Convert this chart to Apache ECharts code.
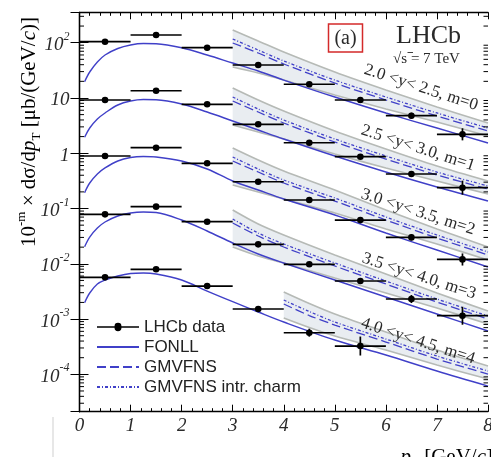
<!DOCTYPE html>
<html><head><meta charset="utf-8">
<script src="https://cdn.jsdelivr.net/npm/echarts@6/dist/echarts.min.js"></script>
<style>html,body{margin:0;padding:0;background:#fff}#c{width:491px;height:457px}</style>
</head><body><div id="c"></div>
<script>
// ---------- data ----------
const binCenters = [0.5, 1.5, 2.5, 3.5, 4.5, 5.5, 6.5, 7.5];
const binLow     = [0, 1, 2, 3, 4, 5, 6, 7];
const binHigh    = [1, 2, 3, 4, 5, 6, 7, 8];
const rapidityLabels = ['2.0 <y< 2.5, m=0', '2.5 <y< 3.0, m=1', '3.0 <y< 3.5, m=2', '3.5 <y< 4.0, m=3', '4.0 <y< 4.5, m=4'];
const xTicks = [0, 1, 2, 3, 4, 5, 6, 7, 8];

// LHCb data (value, lower, upper)
const data0   = [104.3, 137.8, 81.2, 39.5, 17.7, 9.19, 4.78, 2.20];
const data0Lo = [96, 127, 74.7, 36.3, 16.3, 8.45, 4.22, 1.71];
const data0Hi = [113, 150, 88.3, 42.9, 19.2, 9.99, 5.42, 2.83];
const data1   = [9.19, 13.5, 7.68, 3.34, 1.55, 0.866, 0.421, 0.238];
const data1Lo = [8.45, 12.4, 7.07, 3.07, 1.43, 0.797, 0.372, 0.178];
const data1Hi = [9.99, 14.7, 8.35, 3.63, 1.68, 0.941, 0.477, 0.319];
const data2   = [0.891, 1.26, 0.658, 0.305, 0.1426, 0.0617, 0.030, 0.012];
const data2Lo = [0.82, 1.16, 0.605, 0.281, 0.131, 0.0568, 0.0265, 0.0093];
const data2Hi = [0.969, 1.37, 0.715, 0.332, 0.155, 0.0671, 0.034, 0.0154];
const data3   = [0.0785, 0.108, 0.0577, 0.0225, 0.00979, 0.00488, 0.002305, 0.00115];
const data3Lo = [0.0722, 0.0994, 0.0531, 0.0207, 0.0089, 0.00431, 0.00195, 0.00079];
const data3Hi = [0.0853, 0.117, 0.0627, 0.0245, 0.0108, 0.00553, 0.00272, 0.00167];
const data4   = [0.00569, 0.00795, 0.00396, 0.00152, 0.000566, 0.000325];
const data4Lo = [0.00523, 0.00731, 0.00364, 0.00134, 0.00048, 0.000219];
const data4Hi = [0.00618, 0.00864, 0.0043, 0.00172, 0.00067, 0.000483];

// FONLL curves
const fonllX = [0.1, 0.2, 0.35, 0.5, 0.75, 1, 1.25, 1.5, 2, 2.5, 3, 3.5, 4, 5, 6, 7, 8];
const fonll0 = [19.7, 29.5, 44.8, 59.9, 78.6, 90.9, 96.7, 95.9, 81.2, 59.9, 42.9, 30.8, 21.1, 10.4, 5.35, 2.86, 1.53];
const fonll1 = [1.943, 2.86, 4.16, 5.35, 7.46, 8.81, 9.38, 9.30, 7.78, 5.57, 3.83, 2.63, 1.81, 0.891, 0.458, 0.245, 0.1367];
const fonll2 = [0.1932, 0.2894, 0.421, 0.5418, 0.7237, 0.8373, 0.873, 0.855, 0.7237, 0.5186, 0.3147, 0.2163, 0.1486, 0.0763, 0.0361, 0.01775, 0.00874];
const fonll3 = [0.02037, 0.0305, 0.0444, 0.0570, 0.0732, 0.0830, 0.0865, 0.0847, 0.0620, 0.0392, 0.02377, 0.01503, 0.01033, 0.005087, 0.002506, 0.001234, 0.000608];
const fonll4 = [0.001976, 0.00296, 0.004307, 0.005087, 0.006008, 0.00667, 0.006812, 0.006534, 0.005087, 0.003203, 0.00206, 0.001341, 0.000884, 0.000418, 0.0002236, 0.0001148, 0.0000614];

// GMVFNS bands / curves
const bandX  = [3, 3.5, 4, 5, 6, 7, 8];
const bandX4 = [4, 4.5, 5, 6, 7, 8];
const bandTop0 = [169.7, 107.4, 67.9, 29.5, 13.94, 6.865, 3.525];
const icharm0  = [116.7, 73.8, 46.7, 21.1, 10.41, 5.35, 2.86];
const gmv0     = [98.8, 65.1, 41.2, 18.66, 9.19, 4.72, 2.526];
const bandLow0 = [36.3, 28.3, 21.1, 11.32, 6.316, 3.675, 2.050];
const bandTop1 = [15.15, 9.19, 5.812, 2.526, 1.193, 0.5876, 0.3147];
const icharm1  = [10.41, 6.316, 3.995, 1.810, 0.8915, 0.4576, 0.2555];
const gmv1     = [8.81, 5.575, 3.525, 1.597, 0.7866, 0.4041, 0.2254];
const bandLow1 = [3.244, 2.423, 1.810, 0.9688, 0.5407, 0.3147, 0.1830];
const bandTop2 = [1.244, 0.7546, 0.4772, 0.2163, 0.09397, 0.04259, 0.02012];
const icharm2  = [0.855, 0.5187, 0.328, 0.155, 0.07022, 0.03317, 0.01633];
const gmv2     = [0.7237, 0.4576, 0.2894, 0.1367, 0.0620, 0.02927, 0.01442];
const bandLow2 = [0.2662, 0.1989, 0.1486, 0.0830, 0.04259, 0.02280, 0.01171];
const bandTop3 = [0.09397, 0.05245, 0.03317, 0.01442, 0.006534, 0.00296, 0.001398];
const icharm3  = [0.06459, 0.03605, 0.02280, 0.01033, 0.004882, 0.002305, 0.001136];
const gmv3     = [0.05467, 0.03181, 0.02012, 0.009118, 0.004307, 0.002034, 0.001002];
const bandLow3 = [0.02012, 0.01383, 0.01033, 0.005529, 0.00296, 0.001585, 0.000813];
const bandTop4 = [0.003086, 0.001911, 0.001234, 0.000583, 0.0002754, 0.0001414];
const icharm4  = [0.002211, 0.001370, 0.000884, 0.0004355, 0.0002146, 0.0001148];
const gmv4     = [0.001873, 0.001159, 0.00078, 0.0003844, 0.0001893, 0.0001013];
const bandLow4 = [0.001045, 0.000703, 0.000493, 0.0002754, 0.0001474, 0.0000823];

// ---------- styling ----------
const BLUE = '#4040c8', GREYL = '#b6bab6', FILL = '#e9edf1';
const SERIF = '"Liberation Serif","DejaVu Serif",serif';
const SANS = '"Liberation Sans",Arial,sans-serif';
const yMin = 2.109e-5, yMax = 354.8;

const bins = [
  {d: data0, lo: data0Lo, hi: data0Hi, f: fonll0, bx: bandX, top: bandTop0, ic: icharm0, g: gmv0, low: bandLow0},
  {d: data1, lo: data1Lo, hi: data1Hi, f: fonll1, bx: bandX, top: bandTop1, ic: icharm1, g: gmv1, low: bandLow1},
  {d: data2, lo: data2Lo, hi: data2Hi, f: fonll2, bx: bandX, top: bandTop2, ic: icharm2, g: gmv2, low: bandLow2},
  {d: data3, lo: data3Lo, hi: data3Hi, f: fonll3, bx: bandX, top: bandTop3, ic: icharm3, g: gmv3, low: bandLow3},
  {d: data4, lo: data4Lo, hi: data4Hi, f: fonll4, bx: bandX4, top: bandTop4, ic: icharm4, g: gmv4, low: bandLow4}
];

const pair = (xs, ys) => xs.map((x, i) => [x, ys[i]]);
const series = [];

bins.forEach((b, k) => {
  // band fill
  series.push({
    type: 'custom', name: 'band' + k, silent: true, z: 1,
    data: b.bx.map((x, i) => [x, b.top[i], b.low[i]]),
    encode: {x: 0, y: 1},
    renderItem(params, api) {
      if (params.dataIndexInside !== 0) return null;
      const n = params.dataInsideLength, pts = [];
      for (let i = 0; i < n; i++) pts.push(api.coord([api.value(0, i), api.value(1, i)]));
      for (let i = n - 1; i >= 0; i--) pts.push(api.coord([api.value(0, i), api.value(2, i)]));
      return {type: 'polygon', shape: {points: pts}, style: {fill: FILL}};
    }
  });
  [b.top, b.low].forEach((arr, j) => series.push({
    type: 'line', name: 'bandEdge' + k + '_' + j, data: pair(b.bx, arr), smooth: 0.3, symbol: 'none', silent: true, z: 2,
    lineStyle: {color: GREYL, width: 1.6}
  }));
  series.push({type: 'line', name: 'GMVFNS intr. charm', data: pair(b.bx, b.ic), smooth: 0.3, symbol: 'none', silent: true, z: 3,
    color: BLUE, lineStyle: {color: BLUE, width: 1.3, type: [3, 2, 1, 2]}});
  series.push({type: 'line', name: 'GMVFNS', data: pair(b.bx, b.g), smooth: 0.3, symbol: 'none', silent: true, z: 3,
    color: BLUE, lineStyle: {color: BLUE, width: 1.3, type: [9, 4]}});
  series.push({type: 'line', name: 'FONLL', data: pair(fonllX, b.f), smooth: 0.35, symbol: 'none', silent: true, z: 3,
    color: BLUE, lineStyle: {color: BLUE, width: 1.4}});
  // data points with error bars
  series.push({
    type: 'custom', name: 'LHCb data', z: 6, silent: true, color: '#000',
    itemStyle: {color: '#000'},
    data: b.d.map((v, i) => [binCenters[i], v, binLow[i], binHigh[i], b.lo[i], b.hi[i]]),
    encode: {x: 0, y: 1},
    renderItem(params, api) {
      const x = api.value(0), y = api.value(1);
      const c = api.coord([x, y]), l = api.coord([api.value(2), y]), r = api.coord([api.value(3), y]);
      const lo = api.coord([x, api.value(4)]), hi = api.coord([x, api.value(5)]);
      return {type: 'group', children: [
        {type: 'line', shape: {x1: l[0], y1: l[1], x2: r[0], y2: r[1]}, style: {stroke: '#000', lineWidth: 1.7}},
        {type: 'line', shape: {x1: lo[0], y1: lo[1], x2: hi[0], y2: hi[1]}, style: {stroke: '#000', lineWidth: 1.7}},
        {type: 'circle', shape: {cx: c[0], cy: c[1], r: 3.3}, style: {fill: '#000'}}
      ]};
    }
  });
});

// minor log ticks on left and right frame
const minorVals = [];
for (let e = -5; e <= 2; e++) for (let m = 2; m <= 9; m++) {
  const v = m * Math.pow(10, e);
  if (v > yMin && v < yMax) minorVals.push(v);
}
series.push({
  type: 'custom', name: 'minorTicks', silent: true, z: 10,
  data: minorVals.map(v => [0, v]), encode: {x: 0, y: 1},
  renderItem(params, api) {
    const v = api.value(1);
    const a = api.coord([0, v]), b = api.coord([8, v]);
    return {type: 'group', children: [
      {type: 'line', shape: {x1: a[0], y1: a[1], x2: a[0] + 4.5, y2: a[1]}, style: {stroke: '#000', lineWidth: 1}},
      {type: 'line', shape: {x1: b[0], y1: b[1], x2: b[0] - 4.5, y2: b[1]}, style: {stroke: '#000', lineWidth: 1}}
    ]};
  }
});

const supLabel = v => {
  const e = Math.round(Math.log10(v));
  if (e === 0) return '{b|1}';
  if (e === 1) return '{b|10}';
  return '{b|10}{s|' + e + '}';
};

const axisLineStyle = {color: '#000', width: 1.3};
const graphicText = (x, y, text, font, extra) => ({
  type: 'text', x, y, silent: true, z: 20,
  style: Object.assign({text, font, fill: '#2a2a2a', align: 'center', verticalAlign: 'middle', textAlign: 'center', textVerticalAlign: 'middle'}, extra || {})
});
const noSymbol = {color: 'rgba(0,0,0,0)', borderColor: 'rgba(0,0,0,0)', borderWidth: 0};
const rot = -18 * Math.PI / 180;

const chart = echarts.init(document.getElementById('c'), null, {renderer: 'canvas'});
chart.setOption({
  animation: false,
  backgroundColor: '#fff',
  grid: {left: 79.5, right: 3, top: 12.3, bottom: 45.3, containLabel: false, outerBoundsMode: 'none'},
  xAxis: [
    {type: 'value', min: xTicks[0], max: xTicks[xTicks.length - 1], interval: 1, position: 'bottom',
      axisLine: {lineStyle: axisLineStyle}, splitLine: {show: false},
      axisTick: {inside: true, length: 7, lineStyle: {color: '#000', width: 1}},
      minorTick: {show: true, splitNumber: 5, length: 3.5, lineStyle: {color: '#000', width: 1}},
      axisLabel: {margin: 5, color: '#2a2a2a', fontFamily: SERIF, fontStyle: 'italic', fontSize: 19}},
    {type: 'value', min: xTicks[0], max: xTicks[xTicks.length - 1], interval: 1, position: 'top',
      axisLine: {lineStyle: axisLineStyle}, splitLine: {show: false},
      axisTick: {inside: true, length: 7, lineStyle: {color: '#000', width: 1}},
      minorTick: {show: true, splitNumber: 5, length: 3.5, lineStyle: {color: '#000', width: 1}},
      axisLabel: {show: false}}
  ],
  yAxis: [
    {type: 'log', logBase: 10, min: yMin, max: yMax, splitNumber: 7, position: 'left',
      axisLine: {show: true, lineStyle: axisLineStyle}, splitLine: {show: false},
      axisTick: {inside: true, length: 9, lineStyle: {color: '#000', width: 1}},
      axisLabel: {showMinLabel: false, showMaxLabel: false, margin: 10, color: '#2a2a2a', formatter: supLabel,
        rich: {
          b: {fontFamily: SERIF, fontStyle: 'italic', fontSize: 19, lineHeight: 24, verticalAlign: 'bottom', color: '#2a2a2a'},
          s: {fontFamily: SERIF, fontStyle: 'italic', fontSize: 12, lineHeight: 12, verticalAlign: 'top', color: '#2a2a2a'}
        }}},
    {type: 'log', logBase: 10, min: yMin, max: yMax, splitNumber: 7, position: 'right',
      axisLine: {show: true, lineStyle: axisLineStyle}, splitLine: {show: false},
      axisTick: {inside: true, length: 9, lineStyle: {color: '#000', width: 1}},
      axisLabel: {show: false}}
  ],
  legend: {
    orient: 'vertical', left: 96, top: 318.5, itemWidth: 42, itemHeight: 12, itemGap: 3,
    selectedMode: false, padding: 0,
    textStyle: {fontFamily: SANS, fontSize: 17, color: '#222'},
    data: [
      {name: 'LHCb data', icon: 'path://M0,4.3L16.7,4.3A3.3,3.3,0,1,1,23.3,4.3L40,4.3L40,5.7L23.3,5.7A3.3,3.3,0,1,1,16.7,5.7L0,5.7Z', itemStyle: {color: '#000'}},
      {name: 'FONLL', itemStyle: noSymbol},
      {name: 'GMVFNS', itemStyle: noSymbol},
      {name: 'GMVFNS intr. charm', itemStyle: noSymbol}
    ]
  },
  series,
  graphic: [
    // y-axis title
    {type: 'text', x: 29, y: 132, rotation: Math.PI / 2, silent: true, z: 20,
      style: {text: '{a|10}{sup|-m}{a| × dσ/d}{i|p}{sub|T}{a| [μb/(GeV/}{i|c}{a|)]}',
        align: 'center', verticalAlign: 'middle', textAlign: 'center', textVerticalAlign: 'middle',
        rich: {
          a: {fontFamily: SERIF, fontSize: 21, lineHeight: 28, color: '#2a2a2a'},
          i: {fontFamily: SERIF, fontStyle: 'italic', fontSize: 21, lineHeight: 28, color: '#2a2a2a'},
          sup: {fontFamily: SERIF, fontSize: 13, lineHeight: 13, verticalAlign: 'top', color: '#2a2a2a'},
          sub: {fontFamily: SERIF, fontSize: 13, lineHeight: 12, verticalAlign: 'bottom', color: '#2a2a2a'}
        }}},
    // x-axis title
    {type: 'text', x: 493, y: 444, silent: true, z: 20,
      style: {text: '{i|p}{sub|T}{a| [GeV/}{i|c}{a|]}', align: 'right', verticalAlign: 'top', textAlign: 'right', textVerticalAlign: 'top',
        rich: {
          a: {fontFamily: SERIF, fontSize: 21, lineHeight: 26, color: '#2a2a2a'},
          i: {fontFamily: SERIF, fontStyle: 'italic', fontSize: 21, lineHeight: 26, color: '#2a2a2a'},
          sub: {fontFamily: SERIF, fontSize: 13, lineHeight: 12, verticalAlign: 'bottom', color: '#2a2a2a'}
        }}},
    // (a) box
    {type: 'rect', shape: {x: 328.5, y: 24, width: 34, height: 28}, style: {fill: 'none', stroke: '#d42a2a', lineWidth: 1.5}, silent: true, z: 20},
    graphicText(345.5, 38.5, '(a)', '20px ' + SERIF),
    graphicText(428.5, 36, 'LHCb', '26px ' + SERIF),
    graphicText(426.5, 59, '√s = 7 TeV', '15px ' + SERIF),
    {type: 'line', shape: {x1: 407.5, y1: 52.5, x2: 413, y2: 52.5}, style: {stroke: '#2a2a2a', lineWidth: 0.9}, silent: true, z: 20},
    // rapidity labels
    Object.assign(graphicText(421, 87.5, rapidityLabels[0], '17px ' + SERIF), {rotation: rot}),
    Object.assign(graphicText(418, 148, rapidityLabels[1], '17px ' + SERIF), {rotation: rot}),
    Object.assign(graphicText(418, 212, rapidityLabels[2], '17px ' + SERIF), {rotation: rot}),
    Object.assign(graphicText(419, 276, rapidityLabels[3], '17px ' + SERIF), {rotation: rot}),
    Object.assign(graphicText(418, 341, rapidityLabels[4], '17px ' + SERIF), {rotation: rot}),
    // stray grey line at bottom-left
    {type: 'line', shape: {x1: 53, y1: 417, x2: 53, y2: 457}, style: {stroke: '#cfcfcf', lineWidth: 1}, silent: true, z: 20}
  ]
});
</script>
</body></html>
